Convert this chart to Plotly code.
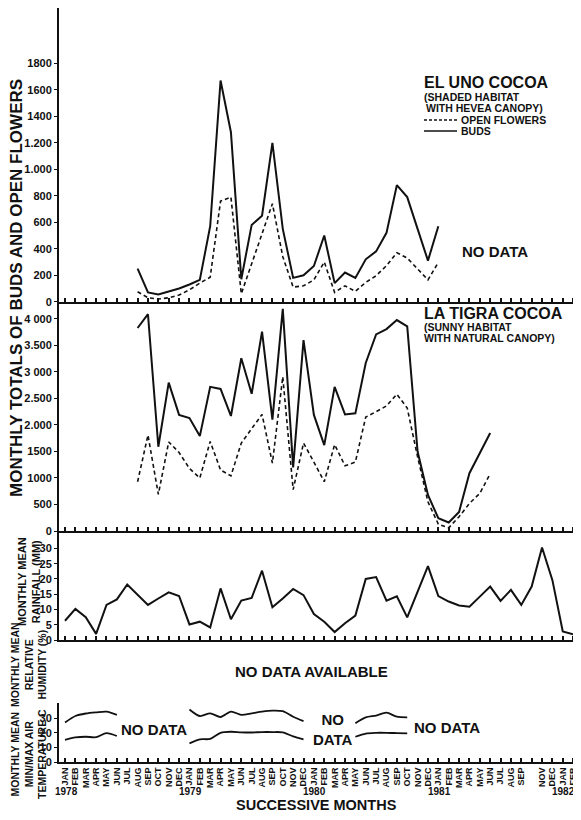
import plotly.graph_objects as go

# ---------------- data ----------------
month_names = ["JAN", "FEB", "MAR", "APR", "MAY", "JUN", "JUL", "AUG", "SEP", "OCT", "NOV", "DEC"]
years = [1978, 1979, 1980, 1981, 1982]
n_months = 50  # JAN 1978 .. FEB 1982
tick_labels = [month_names[i % 12] for i in range(n_months)]
tick_labels[45] = ""  # OCT 1981 label absent in original
year_label_idx = [0, 12, 24, 36, 48]

# El Uno cocoa (AUG 1978 .. JAN 1981)
el_uno_start = 7
el_uno_buds = [250, 70, 55, 75, 100, 130, 165, 570, 1670, 1280, 170, 580, 650, 1200, 550,
               180, 200, 270, 500, 140, 220, 180, 320, 380, 520, 880, 790, 550, 310, 570]
el_uno_flowers = [75, 30, 20, 30, 50, 90, 140, 185, 760, 790, 60, 290, 516, 740, 340,
                  110, 120, 165, 300, 70, 120, 78, 146, 196, 272, 370, 330, 250, 165, 297]

# La Tigra cocoa (AUG 1978 .. JUN 1981)
la_tigra_start = 7
la_tigra_buds = [3830, 4090, 1590, 2800, 2190,
                 2130, 1790, 2720, 2680, 2170, 3260, 2590, 3760, 2100, 4190, 1200, 3600,
                 2190, 1620, 2720, 2200, 2220, 3170, 3710, 3810, 3980, 3860, 1500, 680,
                 240, 160, 360, 1090, 1470, 1850]
la_tigra_flowers = [930, 1810, 690, 1680, 1480,
                    1180, 1000, 1690, 1150, 1040, 1660, 1920, 2200, 1280, 2910, 780, 1660,
                    1300, 930, 1630, 1230, 1300, 2150, 2250, 2360, 2580, 2320, 1400, 550,
                    130, 60, 270, 520, 710, 1080]

# Monthly mean rainfall (mm), JAN 1978 .. FEB 1982
rainfall = [6.3, 10.2, 7.5, 2.0, 11.5, 13.3, 18.2, 14.8, 11.5, 13.6, 15.6, 14.4,
            5.1, 6.0, 4.1, 16.9, 6.8, 12.9, 13.8, 22.7, 10.7, 13.6, 16.7, 14.7,
            8.5, 6.0, 2.6, 5.5, 8.0, 20.0, 20.6, 12.9, 14.3, 7.4, 15.5, 24.2,
            14.4, 12.6, 11.3, 10.9, 14.2, 17.5, 12.8, 16.4, 11.5, 17.5, 30.3, 19.6,
            2.8, 1.9]

# Air temperature (C): segments (start index, values)
temp_max_segments = [
    (0, [27.0, 31.5, 33.2, 34.0, 34.5, 32.3]),
    (12, [36.0, 31.5, 33.3, 30.8, 34.5, 32.3, 33.3, 34.5, 35.2, 34.8, 31.0, 28.0]),
    (28, [26.5, 30.5, 31.8, 33.8, 31.0, 30.6]),
]
temp_min_segments = [
    (0, [15.2, 16.8, 17.3, 17.0, 19.8, 17.8]),
    (12, [12.8, 15.5, 15.8, 20.0, 20.7, 20.3, 20.2, 20.5, 20.5, 20.3, 17.5, 15.5]),
    (28, [17.3, 19.5, 20.0, 20.0, 19.8, 19.6]),
]

# ---------------- layout helpers ----------------
# page has an 8px body margin; all positions below are given in page pixels
OFF = 8
W, H = 573, 804
ML, MR, MT, MB = 51, 3, 0, 50
PW, PH = W - ML - MR, H - MT - MB
PAGE_LEFT = ML + OFF          # 59
PAGE_BOTTOM = H - MB + OFF    # 762


def px(x):
    return (x - PAGE_LEFT) / PW


def py(y):
    return (PAGE_BOTTOM - y) / PH


FONT = "Liberation Sans, Arial, Helvetica, sans-serif"
BLACK = "#111111"

# panel boundaries in page pixels (top -> bottom)
b1, b2, b3, b4 = 301.7, 531, 640, 703
dom_temp = [0, py(b4)]
dom_hum = [py(b4), py(b3)]
dom_rain = [py(b3), py(b2)]
dom_mid = [py(b2), py(b1)]
dom_top = [py(b1), 1]

fig = go.Figure()

xs = list(range(n_months))


def seg_x(start, vals):
    return list(range(start, start + len(vals)))


# top panel
fig.add_trace(go.Scatter(x=seg_x(el_uno_start, el_uno_buds), y=el_uno_buds, mode="lines",
                         line=dict(color=BLACK, width=2), xaxis="x", yaxis="y"))
fig.add_trace(go.Scatter(x=seg_x(el_uno_start, el_uno_flowers), y=el_uno_flowers, mode="lines",
                         line=dict(color=BLACK, width=1.6, dash="4px,3px"), xaxis="x", yaxis="y"))
# middle panel
fig.add_trace(go.Scatter(x=seg_x(la_tigra_start, la_tigra_buds), y=la_tigra_buds, mode="lines",
                         line=dict(color=BLACK, width=2), xaxis="x2", yaxis="y2"))
fig.add_trace(go.Scatter(x=seg_x(la_tigra_start, la_tigra_flowers), y=la_tigra_flowers, mode="lines",
                         line=dict(color=BLACK, width=1.6, dash="4px,3px"), xaxis="x2", yaxis="y2"))
# rainfall
fig.add_trace(go.Scatter(x=xs, y=rainfall, mode="lines", line=dict(color=BLACK, width=2),
                         xaxis="x3", yaxis="y3"))
# temperature
for start, vals in temp_max_segments + temp_min_segments:
    fig.add_trace(go.Scatter(x=seg_x(start, vals), y=vals, mode="lines",
                             line=dict(color=BLACK, width=1.8, shape="spline", smoothing=0.8),
                             xaxis="x5", yaxis="y5"))

x_range = [-0.58, -0.58 + PW / 10.37]

xaxis_common = dict(range=x_range, showline=True, linewidth=2, linecolor=BLACK,
                    ticks="inside", ticklen=4, tickwidth=1.5, tickcolor=BLACK,
                    tickvals=xs, showgrid=False, zeroline=False, fixedrange=True)

layout = dict(
    width=W, height=H, showlegend=False,
    margin=dict(l=ML, r=MR, t=MT, b=MB, autoexpand=False),
    paper_bgcolor="white", plot_bgcolor="white",
    font=dict(family=FONT, color=BLACK, size=11, weight="bold"),
)
names = ["", "2", "3", "4", "5"]
doms = [dom_top, dom_mid, dom_rain, dom_hum, dom_temp]
for nm, dm in zip(names, doms):
    xa = dict(xaxis_common)
    xa["anchor"] = "y" + nm
    xa["domain"] = [0, 1]
    if nm == "5":
        xa["showticklabels"] = True
        xa["ticktext"] = tick_labels
        xa["tickangle"] = -90
        xa["ticklabelstandoff"] = 0
        xa["tickfont"] = dict(size=9, family=FONT, weight="bold")
    else:
        xa["showticklabels"] = False
    if nm:
        xa["matches"] = "x"
    layout["xaxis" + nm] = xa

yaxis_common = dict(showline=True, linewidth=2, linecolor=BLACK, showgrid=False, zeroline=False,
                    ticks="outside", ticklen=3, tickwidth=1.2, tickcolor=BLACK, fixedrange=True,
                    tickfont=dict(size=11, family=FONT, weight="bold"))

y_specs = [
    ([0, 2218], list(range(0, 2000, 200)),
     ["0", "200", "400", "600", "800", "1.000", "1.200", "1400", "1600", "1800"]),
    ([0, 4326], list(range(0, 4500, 500)),
     ["0", "500", "1000", "1500", "2.000", "2.500", "3 000", "3.500", "4 000"]),
    ([0, 35.7], [0, 5, 10, 15, 20, 25, 30], ["0", "5", "10", "15", "20", "25", "30"]),
    ([0, 83.4], [0, 20, 40, 60], ["0", "20", "40", "60"]),
    ([0, 40.4], [0, 10, 20, 30], ["0", "10", "20", "30"]),
]
for nm, dm, (rg, tv, tt) in zip(names, doms, y_specs):
    ya = dict(yaxis_common)
    ya.update(domain=dm, range=rg, tickvals=tv, ticktext=tt, anchor="x" + nm)
    layout["yaxis" + nm] = ya

fig.update_layout(**layout)

ann = []


def text(x, y, s, size, xanchor="left", yanchor="middle", angle=0):
    ann.append(dict(x=px(x), y=py(y), xref="paper", yref="paper", text=s, showarrow=False,
                    xanchor=xanchor, yanchor=yanchor, textangle=angle,
                    font=dict(size=size, family=FONT, color=BLACK, weight="bold")))


# panel headers / legend
text(422, 83, "EL UNO COCOA", 16)
text(422, 97, "(SHADED HABITAT", 10.5)
text(424, 108, "WITH HEVEA CANOPY)", 10.5)
text(459, 120, "OPEN FLOWERS", 10.5)
text(459, 131, "BUDS", 10.5)
text(422, 313, "LA TIGRA COCOA", 16)
text(422, 327, "(SUNNY HABITAT", 10.5)
text(422, 338, "WITH NATURAL CANOPY)", 10.5)

# no-data notes
text(495, 252, "NO DATA", 15, xanchor="center")
text(311, 671, "NO DATA AVAILABLE", 15, xanchor="center")
text(154, 729, "NO DATA", 15, xanchor="center")
text(333, 729, "NO<br>DATA", 15, xanchor="center")
text(447, 727, "NO DATA", 15, xanchor="center")

# axis titles
text(17, 288, "MONTHLY TOTALS OF BUDS AND OPEN FLOWERS", 17, xanchor="center", angle=-90)
text(29, 582, "MONTHLY MEAN<br>RAINFALL (MM)", 11, xanchor="center", angle=-90)
text(28, 665, "MONTHLY MEAN<br>RELATIVE<br>HUMIDITY (%)", 10.5, xanchor="center", angle=-90)
text(28, 754, "MONTHLY MEAN<br>MIN/MAX AIR<br>TEMPERATURE C", 10.5, xanchor="center", angle=-90)
text(316, 814.5, "SUCCESSIVE MONTHS", 14.5, xanchor="center", yanchor="bottom")

# year labels under x ticks
for yr, idx in zip(years, year_label_idx):
    ann.append(dict(x=idx, y=py(791), xref="x5", yref="paper", text=str(yr), showarrow=False,
                    xanchor="center", yanchor="middle", xshift=1,
                    font=dict(size=10, family=FONT, color=BLACK, weight="bold")))

fig.update_layout(annotations=ann)

# legend swatches
fig.add_shape(type="line", xref="paper", yref="paper", x0=px(424), x1=px(457), y0=py(120), y1=py(120),
              line=dict(color=BLACK, width=1.5, dash="3px,2px"))
fig.add_shape(type="line", xref="paper", yref="paper", x0=px(424), x1=px(457), y0=py(131), y1=py(131),
              line=dict(color=BLACK, width=1.5))

fig.write_html("out.html")
